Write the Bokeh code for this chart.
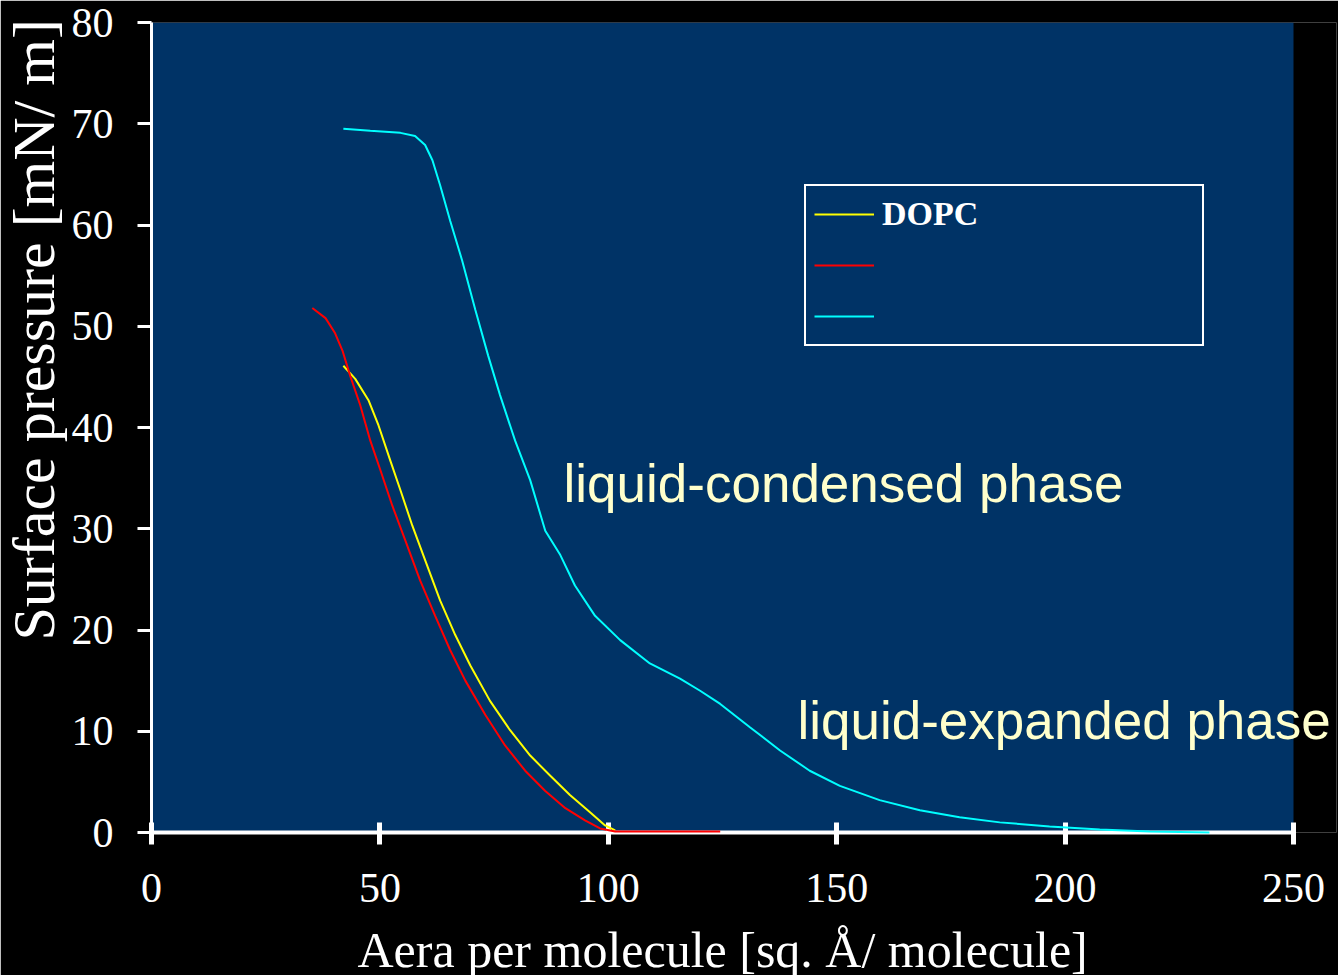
from bokeh.plotting import figure
from bokeh.models import Legend, LegendItem, Label, FixedTicker, BoxAnnotation, Title
from bokeh.core.properties import value
from bokeh.embed import file_html
from bokeh.resources import INLINE

# ---- data ----
dopc_x = [42.0, 44.6, 47.5, 49.7, 52.3, 54.5, 57.1, 59.9, 63.2, 66.5, 69.8, 74.1,
          78.5, 82.9, 87.3, 91.6, 96.0, 99.3, 101.5]
dopc_y = [46.1, 44.8, 42.7, 40.2, 36.7, 33.8, 30.3, 26.9, 22.9, 19.5, 16.5, 13.0,
          10.1, 7.6, 5.6, 3.7, 2.0, 0.7, 0.2]

red_x = [35.2, 38.1, 40.2, 41.8, 43.5, 45.7, 47.9, 50.1, 52.7, 55.6, 58.8, 62.1,
         65.4, 68.7, 73.1, 77.4, 81.8, 86.2, 90.6, 94.9, 98.2, 101.5, 124.5]
red_y = [51.8, 50.8, 49.3, 47.6, 45.1, 42.2, 38.7, 35.8, 32.3, 28.8, 24.9, 21.4,
         18.0, 15.0, 11.6, 8.6, 6.1, 4.1, 2.4, 1.2, 0.4, 0.1, 0.1]

cyan_x = [42.0, 47.9, 54.5, 57.7, 59.9, 61.5, 63.2, 65.4, 68.0, 70.9, 73.7, 76.3,
          79.6, 82.9, 86.2, 89.5, 92.7, 97.1, 102.6, 109.1, 115.7, 120.1, 124.5,
          131.0, 137.6, 144.1, 150.7, 159.4, 168.2, 176.9, 185.7, 196.6, 207.6,
          218.5, 231.6]
cyan_y = [69.5, 69.3, 69.1, 68.8, 67.9, 66.4, 63.9, 60.4, 56.5, 51.6, 47.1, 43.2,
          38.7, 34.8, 29.8, 27.4, 24.4, 21.4, 19.0, 16.7, 15.2, 14.0, 12.7,
          10.4, 8.1, 6.1, 4.6, 3.2, 2.2, 1.5, 1.0, 0.6, 0.3, 0.1, 0.0]

x_ticks = [0, 50, 100, 150, 200, 250]
y_ticks = [0, 10, 20, 30, 40, 50, 60, 70, 80]
series_names = ["DOPC", " ", " "]
annot_texts = ["liquid-condensed phase", "liquid-expanded phase"]
annot_x = [90.2, 141.4]
annot_y = [34.5, 11.1]
x_title = "Aera per molecule [sq.  Å/ molecule]"
y_title = "Surface pressure [mN/ m]"

BG = "#003366"
SERIF = "Liberation Serif"

x_end = x_ticks[-1] * 1185 / 1142  # frame widened so the right-hand text is not clipped

p = figure(frame_width=1185, frame_height=810,
           x_range=(0, x_end), y_range=(0, y_ticks[-1]),
           output_backend="svg", toolbar_location=None,
           min_border_left=151, min_border_right=2,
           min_border_top=22, min_border_bottom=143)
p.background_fill_color = "black"
p.border_fill_color = "black"
p.outline_line_color = None
p.grid.visible = False

p.add_layout(BoxAnnotation(left=x_ticks[0], right=x_ticks[-1],
                           bottom=y_ticks[0], top=y_ticks[-1],
                           fill_color=BG, fill_alpha=1.0, line_color=None,
                           level="underlay"))

r1 = p.line(dopc_x, dopc_y, line_color="#FFFF00", line_width=2, level="overlay")
r2 = p.line(red_x, red_y, line_color="#FF0000", line_width=2, level="overlay")
r3 = p.line(cyan_x, cyan_y, line_color="#00FFFF", line_width=2, level="overlay")

# x axis
xa = p.xaxis[0]
xa.ticker = FixedTicker(ticks=x_ticks)
xa.bounds = (x_ticks[0], x_ticks[-1])
xa.axis_line_color = "white"
xa.axis_line_width = 4
xa.major_tick_line_color = "white"
xa.major_tick_line_width = 5
xa.major_tick_in = 10
xa.major_tick_out = 12
xa.minor_tick_line_color = None
xa.major_label_text_color = "white"
xa.major_label_text_font = SERIF
xa.major_label_text_font_size = "42px"
xa.major_label_standoff = 29

# y axis
ya = p.yaxis[0]
ya.ticker = FixedTicker(ticks=y_ticks)
ya.axis_line_color = "white"
ya.axis_line_width = 3
ya.major_tick_line_color = "white"
ya.major_tick_line_width = 3
ya.major_tick_in = 0
ya.major_tick_out = 14
ya.minor_tick_line_color = None
ya.major_label_text_color = "white"
ya.major_label_text_font = SERIF
ya.major_label_text_font_size = "42px"
ya.major_label_standoff = 24

p.add_layout(Title(text=x_title, align="left", offset=206,
                   text_color="white", text_font=SERIF, text_font_size="50px",
                   text_font_style="normal", standoff=30), "below")
p.add_layout(Title(text=y_title, align="left", offset=192, vertical_align="top",
                   text_color="white", text_font=SERIF, text_font_size="60px",
                   text_font_style="normal", standoff=0), "left")

legend = Legend(items=[LegendItem(label=value(series_names[0]), renderers=[r1]),
                       LegendItem(label=value(series_names[1]), renderers=[r2]),
                       LegendItem(label=value(series_names[2]), renderers=[r3])],
                location=(653, 486),
                background_fill_color=BG, background_fill_alpha=1.0,
                border_line_color="white", border_line_width=2, border_line_alpha=1.0,
                label_text_color="white", label_text_font=SERIF,
                label_text_font_style="bold", label_text_font_size="34px",
                glyph_width=60, glyph_height=40, label_height=40,
                label_width=312, label_standoff=8,
                padding=8, spacing=11, margin=0)
p.add_layout(legend)

for t, ax, ay in zip(annot_texts, annot_x, annot_y):
    p.add_layout(Label(x=ax, y=ay, text=t, text_color="#FFFFCC",
                       text_font="Liberation Sans", text_font_size="53px",
                       text_baseline="middle", text_align="left"))

open("out.html", "w").write(file_html(p, INLINE))
